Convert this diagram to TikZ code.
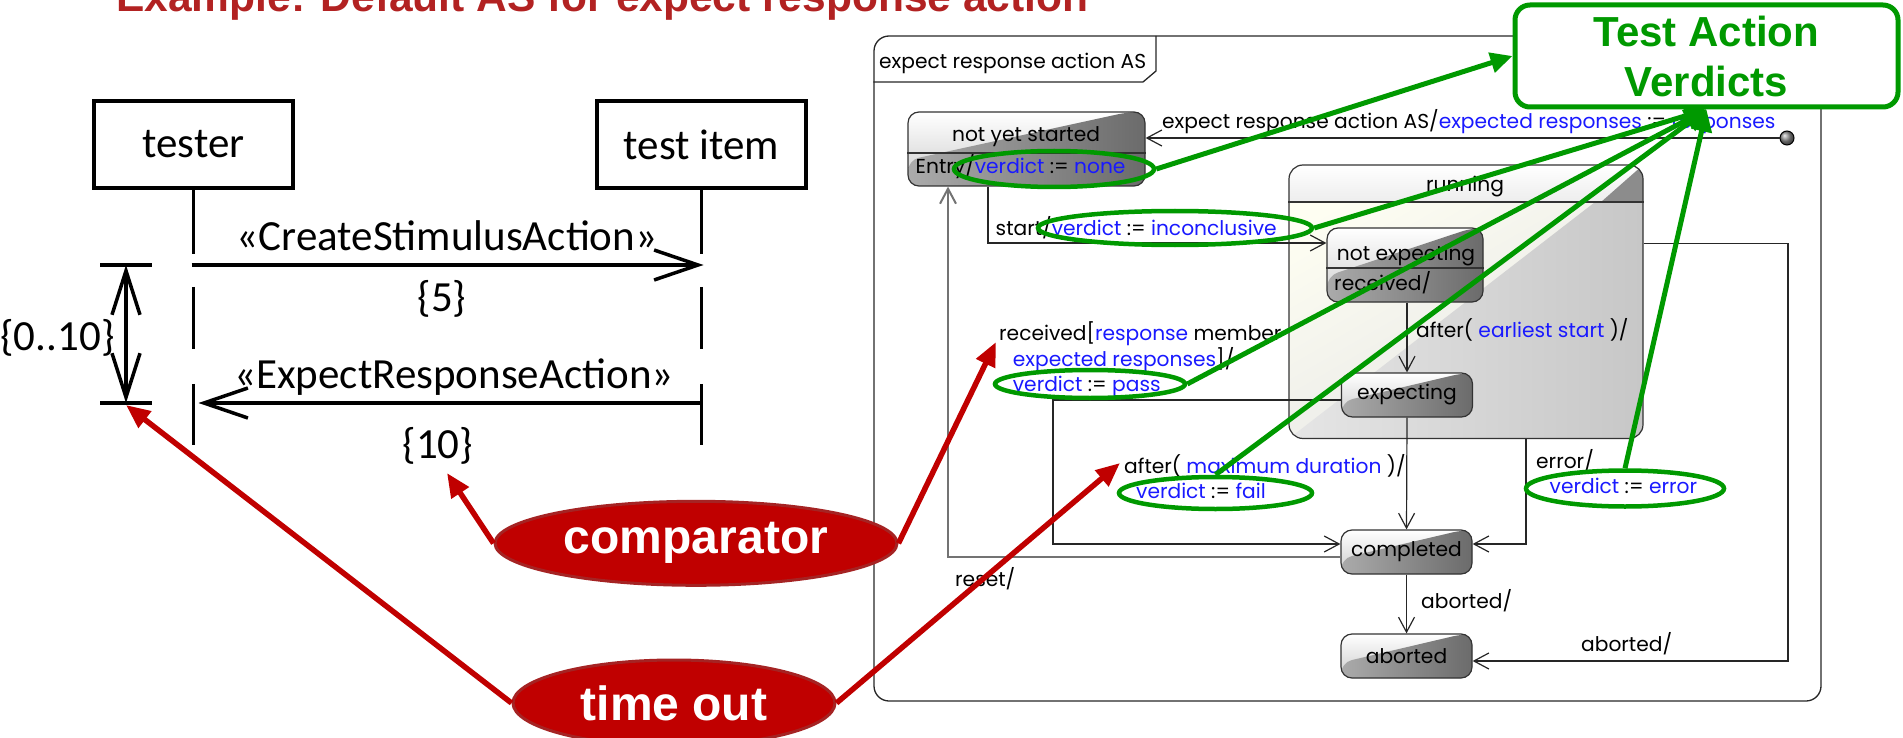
\documentclass[tikz,border=0pt]{standalone}
\usepackage{fontspec}
\setmainfont{Carlito}
\newfontfamily\geofont{Poppins}
\newfontfamily\arfont{Liberation Sans}
\usetikzlibrary{arrows.meta,shapes.geometric,calc}
\definecolor{titred}{RGB}{178,34,34}
\definecolor{calred}{RGB}{192,0,0}
\definecolor{calbord}{RGB}{165,35,35}
\definecolor{vgreen}{RGB}{0,153,0}
\definecolor{sblue}{RGB}{25,25,255}
\definecolor{cream}{RGB}{254,254,242}
\newcommand\bluetxt[1]{\textcolor{sblue}{#1}}
\begin{document}
\begin{tikzpicture}[x=1pt,y=-1pt,
  seqf/.style={font=\fontsize{43}{48}\selectfont},
  smf/.style={font=\geofont\fontsize{20.2}{24}\selectfont},
  seqbox/.style={draw, line width=3.5pt, inner sep=0pt, seqf},
  life/.style={line width=3.5pt},
  seqarr/.style={line width=3.5pt, -{Straight Barb[length=44pt,width=30pt]}},
  seqtxt/.style={seqf, inner sep=0pt},
  lbl/.style={smf, anchor=base west, inner sep=0pt},
  ctr/.style={smf, anchor=base, inner sep=0pt},
  tr/.style={draw=black!85, line width=1.2pt, -{Straight Barb[length=15pt,width=16pt]}},
  trg/.style={draw=black!55, line width=2pt, -{Straight Barb[length=15pt,width=16pt]}},
  stshade/.style={path picture={
    \coordinate (ppa) at (path picture bounding box.north west);
    \coordinate (ppb) at (path picture bounding box.south east);
    \shade[top color=white, bottom color=black!20] (ppa) rectangle (ppb);
    \shade[left color=black!33, right color=black!58]
      ($(ppa)!0.93!(ppa -| ppb)$) -- (ppa -| ppb) -- (ppb) -- (ppa |- ppb) -- ($(ppa |- ppb)!0.35!(ppa)$) -- cycle;
  }},
  st/.style={draw=black!80, line width=1.2pt, rounded corners=11pt, inner sep=0pt, stshade, smf},
  gell/.style={ellipse, draw=vgreen, line width=4.5pt, inner sep=0pt},
  garr/.style={draw=vgreen, line width=5pt, -{Triangle[length=22pt,width=20pt]}},
  rell/.style={ellipse, fill=calred, draw=calbord, line width=3pt, inner sep=0pt, text=white,
    font=\arfont\bfseries\fontsize{48}{52}\selectfont},
  rarr/.style={draw=calred, line width=5.5pt, -{Triangle[length=24pt,width=20pt]}}
]
\useasboundingbox (0,0) rectangle (1903,738);
\clip (0,0) rectangle (1903,738);

% ---------------- title (cut at the top) ----------------
\node[anchor=base west, inner sep=0pt, text=titred, font=\arfont\bfseries\fontsize{42.5}{46}\selectfont]
  (title) at (116,12) {Example: Default AS for expect response action};

% ---------------- state machine frame ----------------
\node[draw=black!85, line width=1.3pt, rounded corners=15pt, minimum width=947pt, minimum height=665pt, inner sep=0pt]
  (frame) at (1347.5,368.5) {};
\coordinate (tabA) at (1156,36);
\coordinate (tabB) at (1156,71);
\coordinate (tabC) at (1143,82);
\draw[draw=black!85, line width=1.3pt] (tabA) -- (tabB) -- (tabC) -- (frame.west |- tabC);
\node[lbl] (tablbl) at (879,69) {expect response action AS};

% ---------------- running (composite) ----------------
\begin{scope}
  \clip[rounded corners=14pt] (1289,165) rectangle (1643,438.5);
  \shade[top color=cream, bottom color=black!10, shading angle=30] (1289,165) rectangle (1643,438.5);
  \shade[left color=black!10, right color=black!22] (1643,165) -- (1643,438.5) -- (1289,438.5) -- cycle;
  \shade[top color=white, bottom color=black!7] (1289,165) rectangle (1643,202);
  \fill[black!45] (1643,165) -- (1643,202) -- (1601,202) -- cycle;
\end{scope}
\node[draw=black!80, line width=1.2pt, rounded corners=14pt, minimum width=354pt, minimum height=273.5pt, inner sep=0pt]
  (run) at (1466,301.75) {};
\coordinate (rdiv) at (0,202);
\draw[draw=black!80, line width=1.2pt] (run.west |- rdiv) -- (run.east |- rdiv);
\node[ctr] (runlbl) at (1465,192) {running};

% ---------------- simple states ----------------
\node[st, minimum width=237pt, minimum height=74pt] (nys) at (1026.5,149) {};
\coordinate (nysdiv) at (0,153);
\draw[draw=black!80, line width=1.2pt] (nys.west |- nysdiv) -- (nys.east |- nysdiv);
\node[ctr] (nyslbl) at (1026,142) {not yet started};
\node[lbl] (entry) at (915.5,174) {Entry/\bluetxt{verdict} := \bluetxt{none}};

\node[st, minimum width=156pt, minimum height=74pt] (nexp) at (1405,265) {};
\coordinate (nexpdiv) at (0,268);
\draw[draw=black!80, line width=1.2pt] (nexp.west |- nexpdiv) -- (nexp.east |- nexpdiv);
\node[ctr] (nexplbl) at (1406,260) {not expecting};
\node[lbl] (recvlbl) at (1334,290) {received/};

\node[st, minimum width=131pt, minimum height=44pt] (exp) at (1407,395) {expecting};
\node[st, minimum width=131pt, minimum height=44pt] (cmp) at (1406.5,552) {completed};
\node[st, minimum width=131pt, minimum height=44pt] (abo) at (1406.5,656) {aborted};

\node[circle, draw=black, line width=1pt, ball color=black!45, minimum size=14pt, inner sep=0pt] (init) at (1787,138) {};

% ---------------- transitions ----------------
\draw[tr] (init.west) -- (nys.east |- init);
\node[lbl] (initlbl) at (1162,128.5) {expect response action AS/\bluetxt{expected responses} := \bluetxt{responses}};

\coordinate (c1) at (988,243);
\draw[tr] (nys.south -| c1) -- (c1) -- (nexp.west |- c1);
\node[lbl] (startlbl) at (995.5,235) {start/\bluetxt{verdict} := \bluetxt{inconclusive}};

\draw[tr] (nexp.south -| exp.north) -- (exp.north);
\node[lbl] (after1) at (1416,337.7) {after( \bluetxt{earliest start} )/};

\coordinate (c2) at (1053,400);
\coordinate (c3) at (1053,544);
\draw[tr] (exp.west |- c2) -- (c2) -- (c3) -- (cmp.west |- c3);
\node[lbl] (rec1) at (999,340) {received[\bluetxt{response} member};
\node[lbl] (rec2) at (1012.7,366) {\bluetxt{expected responses}]/};
\node[lbl] (rec3) at (1012.7,391) {\bluetxt{verdict} := \bluetxt{pass}};

\draw[tr] (exp.south) -- (cmp.north);
\node[lbl] (after2) at (1124,473.7) {after( \bluetxt{maximum duration} )/};
\node[lbl] (faillbl) at (1136,498.7) {\bluetxt{verdict} := \bluetxt{fail}};

\coordinate (c4) at (1526,544);
\draw[tr] (run.south -| c4) -- (c4) -- (cmp.east |- c4);
\node[lbl] (err1) at (1536,468.7) {error/};
\node[lbl] (err2) at (1549.5,493.7) {\bluetxt{verdict} := \bluetxt{error}};

\draw[tr] (cmp.south) -- (abo.north);
\node[lbl] (ab1) at (1421,608.7) {aborted/};

\coordinate (c5) at (1788,243.5);
\coordinate (c6) at (1788,661);
\draw[tr] (run.east |- c5) -- (c5) -- (c6) -- (abo.east |- c6);
\node[lbl] (ab2) at (1581,651) {aborted/};

\coordinate (c7) at (948,557);
\draw[trg] (cmp.west |- c7) -- (c7) -- (nys.south -| c7);
\node[lbl] (resetlbl) at (955,586) {reset/};

% ---------------- green verdict ellipses ----------------
\node[gell, minimum width=200pt, minimum height=36pt] (g1) at (1054,169) {};
\node[gell, minimum width=274pt, minimum height=34pt] (g2) at (1175,228) {};
\node[gell, minimum width=190pt, minimum height=28pt] (g3) at (1090,384) {};
\node[gell, minimum width=193pt, minimum height=32pt] (g4) at (1215.5,493) {};
\node[gell, minimum width=198pt, minimum height=36pt] (g5) at (1625,488.5) {};

% ---------------- sequence diagram ----------------
\node[seqbox, minimum width=199pt, minimum height=87pt] (tester) at (193.5,144.5) {tester};
\node[seqbox, minimum width=209pt, minimum height=87pt] (titem) at (701.5,144.5) {test item};
\foreach \n in {tester,titem}{
  \draw[life] (\n.south) -- ++(0,64);
  \draw[life] ($(\n.south)+(0,97)$) -- ++(0,62);
  \draw[life] ($(\n.south)+(0,194)$) -- ++(0,61);
}
\coordinate (y1) at (0,265);
\coordinate (y2) at (0,403);
\draw[seqarr] ([xshift=-2pt]tester.south |- y1) -- ([xshift=2pt]titem.south |- y1);
\node[seqtxt, anchor=base] (csa) at (447,251) {«CreateStimulusAction»};
\node[seqtxt, anchor=base] (five) at (442,311) {\{5\}};
\draw[seqarr] (titem.south |- y2) -- ([xshift=5pt]tester.south |- y2);
\node[seqtxt, anchor=base] (era) at (454,388) {«ExpectResponseAction»};
\node[seqtxt, anchor=base] (ten) at (438,458) {\{10\}};

\coordinate (d1) at (126,265);
\coordinate (d2) at (126,403);
\draw[life] ($(d1)+(-26,0)$) -- ($(d1)+(26,0)$);
\draw[life] ($(d2)+(-26,0)$) -- ($(d2)+(26,0)$);
\draw[life, {Straight Barb[length=44pt,width=28pt]}-{Straight Barb[length=44pt,width=28pt]}] (d1) -- (d2);
\node[seqtxt, anchor=base] (dur) at (57.5,350) {\{0..10\}};

% ---------------- red callouts ----------------
\node[rell, minimum width=402pt, minimum height=84pt] (comp) at (696,543.3) {comparator};
\node[rell, minimum width=322pt, minimum height=86pt] (tout) at (674,703) {time out};
\coordinate (tipten) at (447,473);
\coordinate (tiprec) at (996,342);
\coordinate (tipaft) at (1120,463);
\coordinate (tipdur) at (126,405);
\draw[rarr] (comp.west) -- (tipten);
\draw[rarr] (comp.east) -- (tiprec);
\draw[rarr] (tout.east) -- (tipaft);
\draw[rarr] (tout.west) -- (tipdur);

% ---------------- green verdict box ----------------
\node[draw=vgreen, line width=5pt, fill=white, rounded corners=15pt, minimum width=383pt, minimum height=102pt,
  inner sep=0pt, align=center, text=vgreen, font=\arfont\bfseries\fontsize{42}{50}\selectfont]
  (tav) at (1706.5,56) {Test Action\\Verdicts};
\draw[garr] (g1.east) -- (tav.west);
\draw[garr] (g2.east) -- (tav.south);
\draw[garr] (g3.east) -- (tav.south);
\draw[garr] (g4.north) -- (tav.south);
\draw[garr] (g5.north) -- (tav.south);
\end{tikzpicture}
\end{document}
